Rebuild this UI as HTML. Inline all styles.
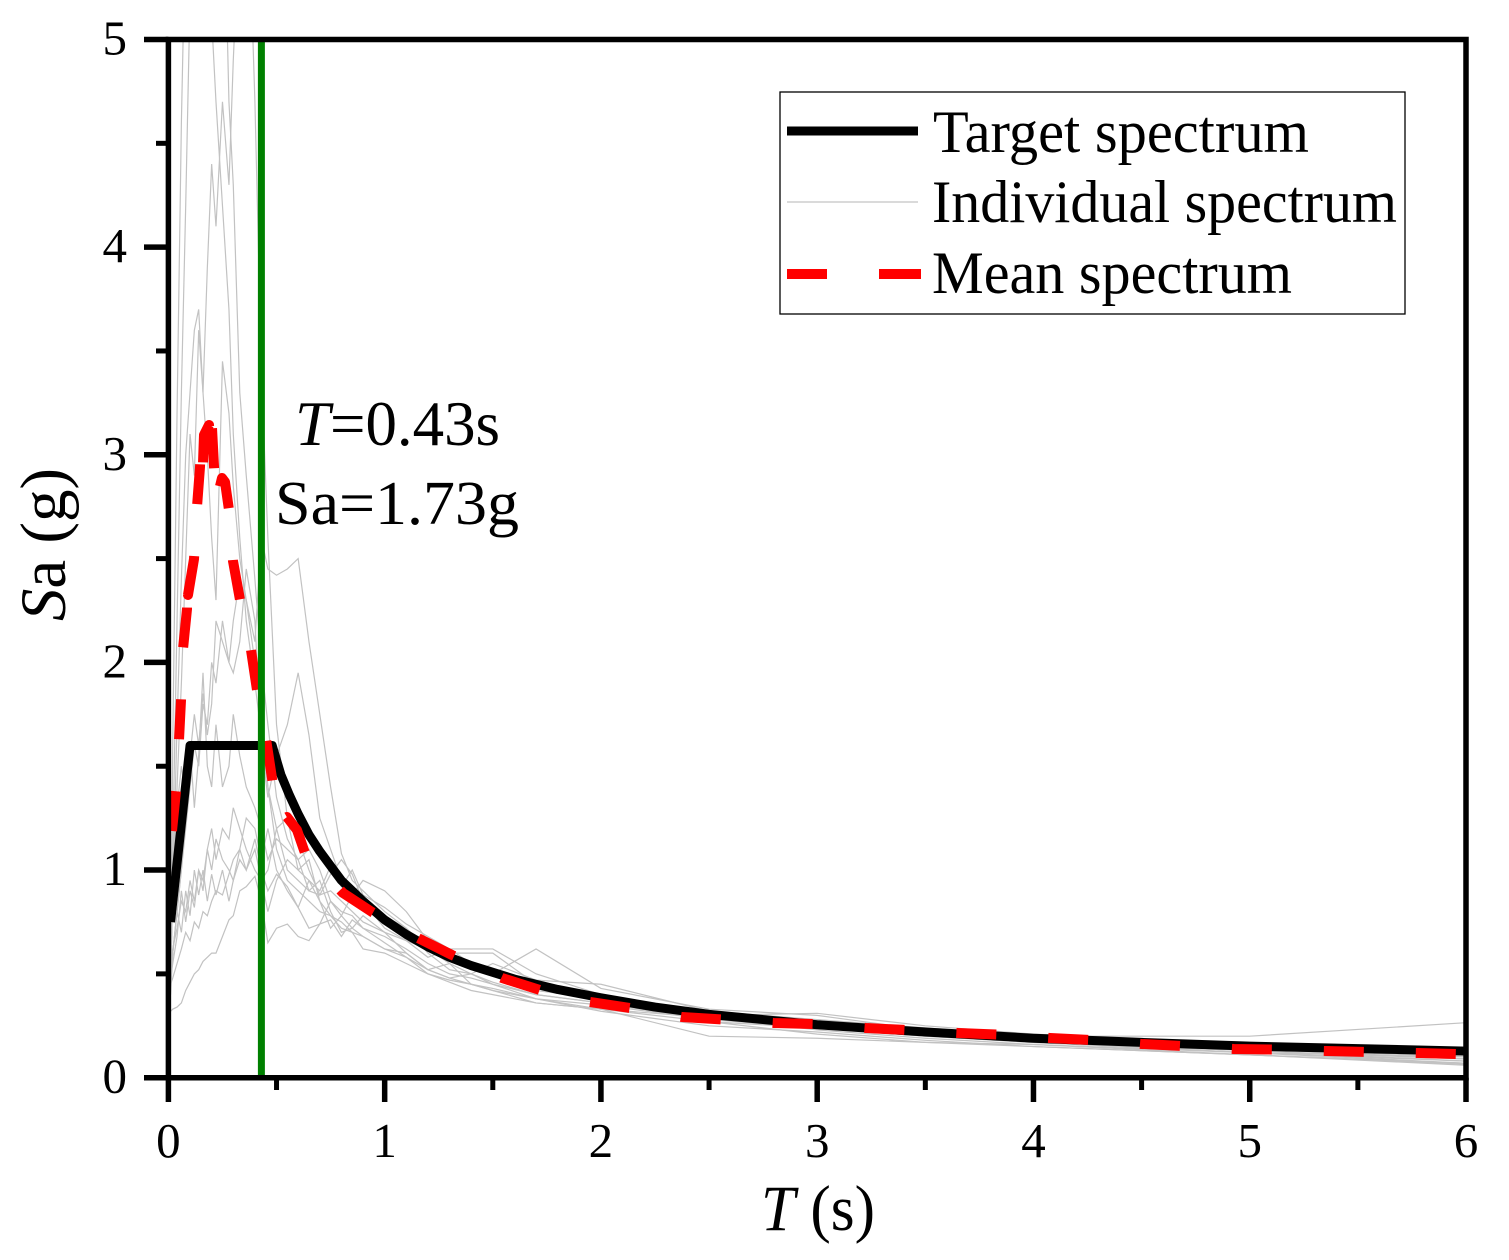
<!DOCTYPE html>
<html lang="en">
<head>
<meta charset="utf-8">
<title>Response spectra chart</title>
<style>
html,body{margin:0;padding:0;background:#fff;}
svg{display:block;font-family:"Liberation Serif","Times New Roman",serif;fill:#000;}
</style>
</head>
<body>
<svg id="chart" xmlns="http://www.w3.org/2000/svg" width="1509" height="1260" viewBox="0 0 1509 1260">
  <defs><clipPath id="plot-clip"><rect x="168" y="39" width="1298" height="1039"></rect></clipPath></defs>
  <g id="individual-layer" clip-path="url(#plot-clip)"></g>
  <g id="main-layer" clip-path="url(#plot-clip)"></g>
  <g id="axis-layer"></g>

  <text x="761" y="1230" font-size="65" textLength="114" lengthAdjust="spacingAndGlyphs"><tspan font-style="italic">T</tspan> (s)</text>
  <text transform="translate(65,621) rotate(-90)" font-size="65" textLength="153" lengthAdjust="spacingAndGlyphs"><tspan font-style="italic">S</tspan>a (g)</text>

  <text x="295" y="445" font-size="63" textLength="205" lengthAdjust="spacingAndGlyphs"><tspan font-style="italic">T</tspan>=0.43s</text>
  <text x="275" y="524" font-size="62" textLength="244" lengthAdjust="spacingAndGlyphs">Sa=1.73g</text>

  <g>
    <rect x="780" y="92" width="625" height="222" fill="#fff" stroke="#000" stroke-width="1.3"></rect>
    <line x1="787" x2="918" y1="131" y2="131" stroke="#000" stroke-width="9"></line>
    <line x1="787" x2="918" y1="202" y2="202" stroke="#c4c4c4" stroke-width="1.2"></line>
    <line x1="787" x2="827" y1="274" y2="274" stroke="#f00" stroke-width="10"></line>
    <line x1="879" x2="921" y1="274" y2="274" stroke="#f00" stroke-width="10"></line>
    <text x="933" y="152" font-size="60" textLength="376" lengthAdjust="spacingAndGlyphs">Target spectrum</text>
    <text x="932" y="222" font-size="60" textLength="465" lengthAdjust="spacingAndGlyphs">Individual spectrum</text>
    <text x="932" y="293" font-size="60" textLength="360" lengthAdjust="spacingAndGlyphs">Mean spectrum</text>
  </g>
</svg>
<script>
var xTickLabels = ['0','1','2','3','4','5','6'];
var yTickLabels = ['0','1','2','3','4','5'];
var xMinorTicks = [0.5,1.5,2.5,3.5,4.5,5.5];
var yMinorTicks = [0.5,1.5,2.5,3.5,4.5];

var targetT  = [0.01,0.1,0.48,0.52,0.56,0.6,0.65,0.7,0.75,0.8,0.9,1,1.1,1.2,1.3,1.4,1.6,1.8,2,2.25,2.5,2.75,3,3.5,4,4.5,5,5.5,6];
var targetSa = [0.75,1.6,1.6,1.46,1.36,1.27,1.17,1.09,1.02,0.95,0.85,0.76,0.69,0.63,0.58,0.54,0.475,0.425,0.385,0.34,0.305,0.28,0.255,0.22,0.19,0.17,0.152,0.14,0.128];

var meanT  = [0.0166,0.0351,0.049,0.0583,0.0675,0.086,0.0883,0.0906,0.1184,0.1322,0.1461,0.1507,0.16,0.1646,0.1877,0.197,0.2016,0.2108,0.2201,0.2478,0.2617,0.2802,0.2987,0.3311,0.3819,0.4097,0.4513,0.479,0.5068,0.5484,0.5946,0.6316,0.8073,0.9414,1.1541,1.3113,1.5425,1.7182,1.9494,2.1344,2.3748,2.5598,2.8002,2.9851,3.2256,3.4105,3.651,3.836,4.0764,4.2614,4.5019,4.6868,4.9273,5.1122,5.3527,5.5377,5.7781,5.9631,6];
var meanSa = [1.1881,1.3807,1.6264,1.819,2.0646,2.2573,2.421,2.3247,2.4981,2.7485,2.9411,3.0808,2.9604,3.0953,3.1434,3.0085,3.129,2.946,2.7678,2.8882,2.8689,2.734,2.4885,2.3006,2.0598,1.8672,1.6312,1.4434,1.2315,1.2555,1.1929,1.0822,0.8895,0.798,0.6728,0.5909,0.4802,0.4224,0.3646,0.3357,0.2923,0.2803,0.2634,0.2586,0.2394,0.2297,0.2153,0.2076,0.1912,0.1816,0.1623,0.1527,0.1382,0.1358,0.1286,0.1238,0.119,0.1141,0.114];

var verticalMarkerT = 0.43;

var spectrumT = [
  0.01,0.02,0.04,0.06,0.08,0.1,0.12,0.14,0.16,0.18,
  0.2,0.22,0.25,0.28,0.3,0.33,0.36,0.4,0.43,0.46,
  0.5,0.55,0.6,0.65,0.7,0.75,0.8,0.85,0.9,1,
  1.1,1.2,1.3,1.4,1.5,1.7,2,2.5,3,3.5,
  4,5,6];

var spectrum1 = [
  0.5,0.9,1.4,1.9,2.5,3.1,2.9,3.6,3.3,3.9,
  4.4,4.1,4.7,4.3,4.9,5.6,6,4.7,3.4,2.6,
  1.7,1.25,1,0.95,0.85,0.78,0.72,0.7,0.62,0.6,
  0.55,0.5,0.47,0.45,0.42,0.38,0.33,0.27,0.21,0.17,
  0.15,0.11,0.07];
var spectrum2 = [
  0.5,1.1,2.2,3.3,4.2,5.2,5.8,6.2,6.6,6.9,
  7.2,6.8,6,4.7,4.3,3.3,2.9,2.4,2,1.7,
  1.35,1.15,1.05,1.1,1,0.85,0.8,0.78,0.72,0.68,
  0.62,0.55,0.5,0.48,0.45,0.4,0.36,0.3,0.25,0.2,
  0.17,0.13,0.09];
var spectrum3 = [
  0.6,1.6,3.2,4.6,5.6,6.6,7.5,7.2,6.2,5.6,
  5.1,4.7,4.2,3.7,3.1,2.6,2.2,1.9,1.65,1.4,
  1.2,1,0.95,0.9,0.88,0.9,0.85,0.8,0.75,0.7,
  0.66,0.62,0.6,0.6,0.6,0.45,0.38,0.27,0.24,0.2,
  0.17,0.12,0.08];
var spectrum4 = [
  0.45,0.9,1.7,2.4,3,3.3,3.6,3.7,3.3,3,
  2.6,2.3,3.45,3.2,2.85,2.5,2.3,2,1.8,1.4,
  1.1,0.95,0.9,0.85,0.8,0.78,0.75,0.7,0.68,0.62,
  0.58,0.52,0.48,0.45,0.43,0.38,0.35,0.28,0.24,0.2,
  0.17,0.12,0.1];
var spectrum5 = [
  0.4,0.6,0.8,1,1.2,1.4,1.6,1.5,1.8,1.7,
  2,1.9,2.2,2,2.2,2.4,2.3,2.1,2.6,2.45,
  2.42,2.45,2.5,2.1,1.75,1.4,1.08,0.95,0.9,0.8,
  0.72,0.62,0.55,0.5,0.55,0.47,0.45,0.32,0.28,0.24,
  0.2,0.2,0.265];
var spectrum6 = [
  0.5,0.9,1.3,1.5,1.35,1.55,1.75,1.6,1.85,1.65,
  1.8,2.2,2.1,2,1.95,2.1,2.45,2.2,1.6,1.35,
  1.55,1.7,1.95,1.65,1.25,1.1,0.95,0.9,0.85,0.78,
  0.72,0.6,0.52,0.5,0.46,0.4,0.36,0.28,0.28,0.22,
  0.17,0.13,0.08];
var spectrum7 = [
  0.45,0.6,0.8,1,1.3,1.6,1.3,1.55,1.95,1.5,
  1.4,1.7,1.4,1.5,1.75,1.55,1.4,1.3,1.2,1.05,
  1.15,1.1,1.05,0.9,0.95,0.8,0.7,0.72,0.78,0.7,
  0.6,0.52,0.55,0.45,0.42,0.36,0.33,0.29,0.23,0.19,
  0.16,0.11,0.065];
var spectrum8 = [
  0.32,0.33,0.34,0.36,0.42,0.46,0.5,0.52,0.56,0.58,
  0.6,0.6,0.68,0.76,0.78,0.9,0.92,0.97,0.85,0.65,
  0.72,0.74,0.68,0.66,0.74,0.76,0.68,0.76,0.72,0.65,
  0.58,0.5,0.46,0.42,0.4,0.36,0.33,0.2,0.19,0.17,
  0.16,0.12,0.07];
var spectrum9 = [
  0.45,0.48,0.55,0.62,0.7,0.66,0.75,0.72,0.8,0.78,
  0.85,0.9,0.88,0.98,1.05,1.1,1,1.15,1,0.9,
  0.98,0.92,0.82,0.72,0.74,0.85,0.78,0.72,0.68,0.62,
  0.6,0.52,0.48,0.5,0.45,0.38,0.32,0.25,0.22,0.18,
  0.15,0.11,0.06];
var spectrum10 = [
  0.55,0.62,0.72,0.85,0.8,0.95,0.85,1,0.95,1.1,
  1,1.15,1.05,1,0.95,1.1,1.25,1.2,1.05,1.2,
  1,0.9,0.82,0.95,0.9,1.02,0.92,1,0.88,0.82,
  0.74,0.68,0.62,0.55,0.5,0.42,0.38,0.3,0.31,0.25,
  0.21,0.16,0.1];
var spectrum11 = [
  0.5,0.6,0.8,0.7,0.9,0.78,1,0.88,1,0.85,
  0.98,0.88,1,0.85,0.95,1.05,1,1.1,0.95,0.8,
  0.95,1.05,1,1.05,0.85,0.72,0.78,0.88,0.95,0.9,
  0.8,0.66,0.56,0.52,0.5,0.62,0.43,0.33,0.3,0.23,
  0.18,0.14,0.09];
var spectrum12 = [
  0.48,0.55,0.68,0.9,0.75,0.9,0.82,1,0.9,1.1,
  1.2,1.05,1.2,1.15,1.3,1.2,1.1,1,0.95,1,
  1.2,1.25,1.15,1,0.88,0.98,1.05,0.98,0.85,0.72,
  0.66,0.58,0.62,0.62,0.62,0.5,0.4,0.31,0.27,0.22,
  0.18,0.14,0.1];
var individualSpectra = [spectrum1,spectrum2,spectrum3,spectrum4,spectrum5,spectrum6,spectrum7,spectrum8,spectrum9,spectrum10,spectrum11,spectrum12];

var SVG_NS = 'http://www.w3.org/2000/svg';
function xScale(t){ return 168.4 + t * (1466 - 168.4) / 6; }
function yScale(s){ return 1077.7 - s * (1077.7 - 39.5) / 5; }
function pathFrom(ts, vs){
  var d = '';
  for (var i = 0; i < ts.length; i++) {
    d += (i ? 'L' : 'M') + xScale(ts[i]).toFixed(2) + ' ' + yScale(vs[i]).toFixed(2);
  }
  return d;
}
function makeEl(tag, parent){
  var el = document.createElementNS(SVG_NS, tag);
  parent.appendChild(el);
  return el;
}

var individualLayer = document.getElementById('individual-layer');
var mainLayer = document.getElementById('main-layer');
var axisLayer = document.getElementById('axis-layer');

individualSpectra.forEach(function(values){
  var p = makeEl('path', individualLayer);
  
  
  p.setAttribute('d', pathFrom(spectrumT, values));
  p.setAttribute('fill', 'none');
  p.setAttribute('stroke', '#c2c2c2');
  p.setAttribute('stroke-width', '1.2');
});

var targetLine = makeEl('path', mainLayer);


targetLine.setAttribute('d', pathFrom(targetT, targetSa));
targetLine.setAttribute('fill', 'none');
targetLine.setAttribute('stroke', '#000');
targetLine.setAttribute('stroke-width', '9');
targetLine.setAttribute('stroke-linejoin', 'round');

var meanLine = makeEl('path', mainLayer);


meanLine.setAttribute('d', pathFrom(meanT, meanSa));
meanLine.setAttribute('fill', 'none');
meanLine.setAttribute('stroke', '#f00');
meanLine.setAttribute('stroke-width', '10');
meanLine.setAttribute('stroke-dasharray', '40 52');
meanLine.setAttribute('stroke-linejoin', 'round');

var marker = makeEl('line', mainLayer);


marker.setAttribute('x1', xScale(verticalMarkerT));
marker.setAttribute('x2', xScale(verticalMarkerT));
marker.setAttribute('y1', yScale(5));
marker.setAttribute('y2', yScale(0));
marker.setAttribute('stroke', '#008000');
marker.setAttribute('stroke-width', '7');

var frame = makeEl('path', axisLayer);


frame.setAttribute('d', 'M' + xScale(0) + ' ' + yScale(5) + 'H' + xScale(6) + 'V' + yScale(0) + 'H' + xScale(0) + 'Z');
frame.setAttribute('fill', 'none');
frame.setAttribute('stroke', '#000');
frame.setAttribute('stroke-width', '5.5');
frame.setAttribute('stroke-linejoin', 'miter');

xTickLabels.forEach(function(label){
  var v = Number(label);
  var tick = makeEl('line', axisLayer);
  
  
  tick.setAttribute('x1', xScale(v));
  tick.setAttribute('x2', xScale(v));
  tick.setAttribute('y1', yScale(0));
  tick.setAttribute('y2', 1102);
  tick.setAttribute('stroke', '#000');
  tick.setAttribute('stroke-width', '5.5');
  var text = makeEl('text', axisLayer);
  
  
  text.setAttribute('x', xScale(v));
  text.setAttribute('y', 1157);
  text.setAttribute('font-size', '49');
  text.setAttribute('text-anchor', 'middle');
  text.textContent = label;
});
xMinorTicks.forEach(function(v){
  var tick = makeEl('line', axisLayer);
  
  
  tick.setAttribute('x1', xScale(v));
  tick.setAttribute('x2', xScale(v));
  tick.setAttribute('y1', yScale(0));
  tick.setAttribute('y2', 1090);
  tick.setAttribute('stroke', '#000');
  tick.setAttribute('stroke-width', '5');
});
yTickLabels.forEach(function(label){
  var v = Number(label);
  var tick = makeEl('line', axisLayer);
  
  
  tick.setAttribute('x1', 144);
  tick.setAttribute('x2', xScale(0));
  tick.setAttribute('y1', yScale(v));
  tick.setAttribute('y2', yScale(v));
  tick.setAttribute('stroke', '#000');
  tick.setAttribute('stroke-width', '5.5');
  var text = makeEl('text', axisLayer);
  
  
  text.setAttribute('x', 127);
  text.setAttribute('y', yScale(v) + 15);
  text.setAttribute('font-size', '49');
  text.setAttribute('text-anchor', 'end');
  text.textContent = label;
});
yMinorTicks.forEach(function(v){
  var tick = makeEl('line', axisLayer);
  
  
  tick.setAttribute('x1', 156);
  tick.setAttribute('x2', xScale(0));
  tick.setAttribute('y1', yScale(v));
  tick.setAttribute('y2', yScale(v));
  tick.setAttribute('stroke', '#000');
  tick.setAttribute('stroke-width', '5');
});
</script>
</body>
</html>
